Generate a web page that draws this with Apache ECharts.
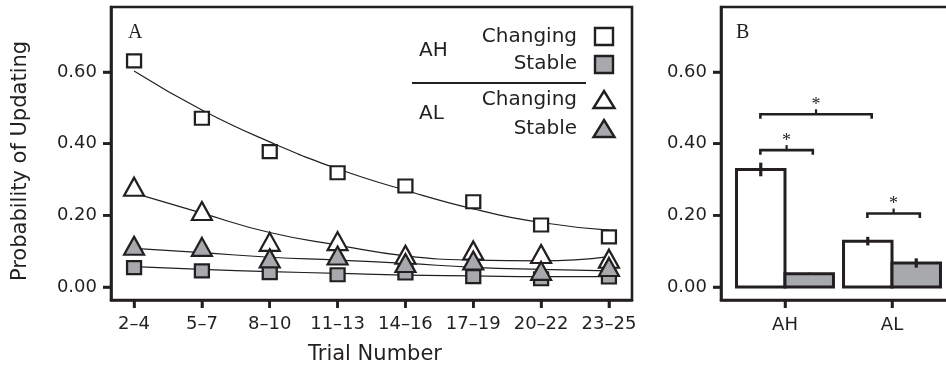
<!DOCTYPE html>
<html>
<head>
<meta charset="utf-8">
<script src="https://cdn.jsdelivr.net/npm/echarts@6/dist/echarts.min.js"></script>
<style>html,body{margin:0;padding:0;background:#fff;}#main{width:946px;height:371px;}</style>
</head>
<body>
<div id="main"></div>
<script>
// ---- Panel A data ----
const trialLabels = ['2–4','5–7','8–10','11–13','14–16','17–19','20–22','23–25'];
const ahChanging = [0.631,0.471,0.378,0.319,0.282,0.238,0.173,0.140];
const ahStable   = [0.054,0.045,0.040,0.034,0.039,0.029,0.023,0.028];
const alChanging = [0.280,0.212,0.126,0.128,0.090,0.102,0.092,0.079];
const alStable   = [0.115,0.112,0.080,0.088,0.067,0.074,0.045,0.056];
const fitAHChanging = [0.603,0.494,0.405,0.330,0.270,0.218,0.180,0.159];
const fitAHStable   = [0.057,0.049,0.043,0.038,0.033,0.031,0.029,0.029];
const fitALChanging = [0.262,0.206,0.152,0.117,0.087,0.075,0.073,0.085];
const fitALStable   = [0.108,0.096,0.083,0.075,0.066,0.055,0.049,0.045];
const yTicks = [0, 0.2, 0.4, 0.6];

// ---- Panel B data ----
const groups = ['AH','AL'];
const barChanging = [0.328, 0.128];
const barStable   = [0.037, 0.067];
const errChanging = [0.019, 0.012];
const errStable   = [0.003, 0.013];
// [from x, to x, height] in panel-B data units
const brackets = [[-0.23, 0.81, 0.482], [-0.23, 0.26, 0.382], [0.77, 1.26, 0.205]];

const INK = '#231f20';
const GREY = '#a7a9ac';
const FONT = 'DejaVu Sans';
const BAR_W = 0.453;
const TICK_LEN = 8;
const Y_MIN = -0.0363, Y_MAX = 0.7815;
const XA_MIN = -0.34, XA_MAX = 7.34;
const XB_MIN = -0.598, XB_MAX = 1.598;

const chart = echarts.init(document.getElementById('main'));

function pts(arr) { return arr.map((v, i) => [i, v]); }

const labelStyle = {color: INK, fontFamily: FONT, fontSize: 18};
function axLine() { return {show: true, onZero: false, lineStyle: {color: INK, width: 2.6}}; }
function ticks(vals) { return {show: true, length: TICK_LEN, lineStyle: {color: INK, width: 2.5}, customValues: vals}; }

function fitLine(arr) {
  return {type: 'line', xAxisIndex: 0, yAxisIndex: 0, data: pts(arr), smooth: true, showSymbol: false,
    symbol: 'none', lineStyle: {color: INK, width: 1.2}, z: 2, silent: true};
}
function marks(arr, symbol, size, fill) {
  return {type: 'scatter', xAxisIndex: 0, yAxisIndex: 0, data: pts(arr), symbol: symbol, symbolSize: size,
    itemStyle: {color: fill, borderColor: INK, borderWidth: 2.2, opacity: 1}, z: 3, silent: true};
}

// bar data: [groupIndex, value, side, err]
const barData = [];
groups.forEach((g, i) => {
  barData.push([i, barChanging[i], -1, errChanging[i]]);
  barData.push([i, barStable[i], 1, errStable[i]]);
});

const xIdxA = trialLabels.map((t, i) => i);
const xIdxB = groups.map((g, i) => i);

const baseGraphic = [
  {type: 'text', x: 21, y: 161, rotation: Math.PI / 2,
    style: {text: 'Probability of Updating', fill: INK, font: '21px "DejaVu Sans"', align: 'center', verticalAlign: 'middle'}},
  {type: 'text', x: 375, y: 355,
    style: {text: 'Trial Number', fill: INK, font: '21px "DejaVu Sans"', align: 'center', verticalAlign: 'middle'}},
  {type: 'text', x: 128, y: 33, style: {text: 'A', fill: INK, font: '20px "Liberation Serif"', align: 'left', verticalAlign: 'middle'}},
  {type: 'text', x: 736, y: 33, style: {text: 'B', fill: INK, font: '20px "Liberation Serif"', align: 'left', verticalAlign: 'middle'}},
  // legend
  {type: 'text', x: 577, y: 37, style: {text: 'Changing', fill: INK, font: '20px "DejaVu Sans"', align: 'right', verticalAlign: 'middle'}},
  {type: 'text', x: 577, y: 64, style: {text: 'Stable', fill: INK, font: '20px "DejaVu Sans"', align: 'right', verticalAlign: 'middle'}},
  {type: 'text', x: 419, y: 51, style: {text: 'AH', fill: INK, font: '20px "DejaVu Sans"', align: 'left', verticalAlign: 'middle'}},
  {type: 'line', shape: {x1: 412, y1: 83, x2: 586, y2: 83}, style: {stroke: INK, lineWidth: 2}},
  {type: 'text', x: 577, y: 100, style: {text: 'Changing', fill: INK, font: '20px "DejaVu Sans"', align: 'right', verticalAlign: 'middle'}},
  {type: 'text', x: 419, y: 114, style: {text: 'AL', fill: INK, font: '20px "DejaVu Sans"', align: 'left', verticalAlign: 'middle'}},
  {type: 'text', x: 577, y: 129, style: {text: 'Stable', fill: INK, font: '20px "DejaVu Sans"', align: 'right', verticalAlign: 'middle'}},
  {type: 'rect', shape: {x: 595, y: 28, width: 18, height: 17}, style: {fill: '#fff', stroke: INK, lineWidth: 2.4}},
  {type: 'rect', shape: {x: 595, y: 56, width: 18, height: 17}, style: {fill: GREY, stroke: INK, lineWidth: 2.4}},
  {type: 'polygon', shape: {points: [[604, 91], [614.5, 108], [593.5, 108]]}, style: {fill: '#fff', stroke: INK, lineWidth: 2.4}},
  {type: 'polygon', shape: {points: [[604, 120], [614.5, 137], [593.5, 137]]}, style: {fill: GREY, stroke: INK, lineWidth: 2.4}}
];

const option = {
  animation: false,
  grid: [
    {left: 111, top: 7, width: 521, height: 293, show: true, borderColor: INK, borderWidth: 2.6,
      backgroundColor: 'transparent', outerBoundsMode: 'none', containLabel: false},
    {left: 721, top: 7, width: 235, height: 293, show: true, borderColor: INK, borderWidth: 2.6,
      backgroundColor: 'transparent', outerBoundsMode: 'none', containLabel: false}
  ],
  xAxis: [
    {type: 'value', gridIndex: 0, min: XA_MIN, max: XA_MAX, splitLine: {show: false}, axisLine: axLine(),
      axisTick: ticks(xIdxA),
      axisLabel: Object.assign({customValues: xIdxA, margin: 15, formatter: v => trialLabels[Math.round(v)]}, labelStyle)},
    {type: 'value', gridIndex: 1, min: XB_MIN, max: XB_MAX, splitLine: {show: false}, axisLine: axLine(),
      axisTick: ticks(xIdxB),
      axisLabel: Object.assign({customValues: xIdxB, margin: 16, formatter: v => groups[Math.round(v)]}, labelStyle)}
  ],
  yAxis: [
    {type: 'value', gridIndex: 0, min: Y_MIN, max: Y_MAX, splitLine: {show: false}, axisLine: axLine(),
      axisTick: ticks(yTicks),
      axisLabel: Object.assign({customValues: yTicks, margin: 14, formatter: v => v.toFixed(2)}, labelStyle)},
    {type: 'value', gridIndex: 1, min: Y_MIN, max: Y_MAX, splitLine: {show: false}, axisLine: axLine(),
      axisTick: ticks(yTicks),
      axisLabel: Object.assign({customValues: yTicks, margin: 14, formatter: v => v.toFixed(2)}, labelStyle)}
  ],
  series: [
    fitLine(fitAHChanging), fitLine(fitAHStable), fitLine(fitALChanging), fitLine(fitALStable),
    marks(ahStable, 'rect', [14, 13], GREY),
    marks(ahChanging, 'rect', [14, 13], '#fff'),
    marks(alChanging, 'triangle', [20, 18], '#fff'),
    marks(alStable, 'triangle', [20, 18], GREY),
    {
      type: 'custom', xAxisIndex: 1, yAxisIndex: 1, data: barData, silent: true, z: 3,
      renderItem: function (params, api) {
        const gx = api.value(0), v = api.value(1), side = api.value(2), e = api.value(3);
        const unit = api.size([1, 0])[0];
        const w = BAR_W * unit;
        const base = api.coord([gx, 0]);
        const top = api.coord([gx, v]);
        const left = side < 0 ? base[0] - w : base[0];
        const cx = left + w / 2;
        const lo = api.coord([gx, v - e]);
        const hi = api.coord([gx, v + e]);
        return {type: 'group', children: [
          {type: 'rect', shape: {x: left, y: top[1], width: w, height: base[1] - top[1]},
            style: {fill: side < 0 ? '#fff' : GREY, stroke: INK, lineWidth: 3}},
          {type: 'line', shape: {x1: cx, y1: lo[1], x2: cx, y2: hi[1]},
            style: {stroke: INK, lineWidth: 3.2}}
        ]};
      }
    },
    {
      type: 'custom', xAxisIndex: 1, yAxisIndex: 1, data: brackets, silent: true, z: 4,
      renderItem: function (params, api) {
        const a = api.coord([api.value(0), api.value(2)]);
        const b = api.coord([api.value(1), api.value(2)]);
        const mid = (a[0] + b[0]) / 2;
        const y = a[1];
        return {type: 'group', children: [
          {type: 'polyline', shape: {points: [[a[0], y + 4.5], [a[0], y], [b[0], y], [b[0], y + 4.5]]},
            style: {stroke: INK, lineWidth: 2.6, fill: null}},
          {type: 'line', shape: {x1: mid, y1: y, x2: mid, y2: y - 5}, style: {stroke: INK, lineWidth: 2.2}},
          {type: 'text', x: mid, y: y - 9, style: {text: '*', fill: INK, font: '18px "Liberation Serif"',
            align: 'center', verticalAlign: 'middle'}}
        ]};
      }
    }
  ],
  graphic: baseGraphic
};
chart.setOption(option);

// Outward tick marks placed through the library's own axis scales (backup in case axis ticks are hidden).
const tickGraphic = [];
function addXTicks(gridIdx, values, yMin) {
  values.forEach(v => {
    const p = chart.convertToPixel({xAxisIndex: gridIdx, yAxisIndex: gridIdx}, [v, yMin]);
    tickGraphic.push({type: 'line', z: 100, shape: {x1: p[0], y1: p[1], x2: p[0], y2: p[1] + TICK_LEN},
      style: {stroke: INK, lineWidth: 2.5}});
  });
}
function addYTicks(gridIdx, values, xMin) {
  values.forEach(v => {
    const p = chart.convertToPixel({xAxisIndex: gridIdx, yAxisIndex: gridIdx}, [xMin, v]);
    tickGraphic.push({type: 'line', z: 100, shape: {x1: p[0] - TICK_LEN, y1: p[1], x2: p[0], y2: p[1]},
      style: {stroke: INK, lineWidth: 2.5}});
  });
}
addXTicks(0, xIdxA, Y_MIN);
addYTicks(0, yTicks, XA_MIN);
addXTicks(1, xIdxB, Y_MIN);
addYTicks(1, yTicks, XB_MIN);
chart.setOption({graphic: baseGraphic.concat(tickGraphic)});
</script>
</body>
</html>
